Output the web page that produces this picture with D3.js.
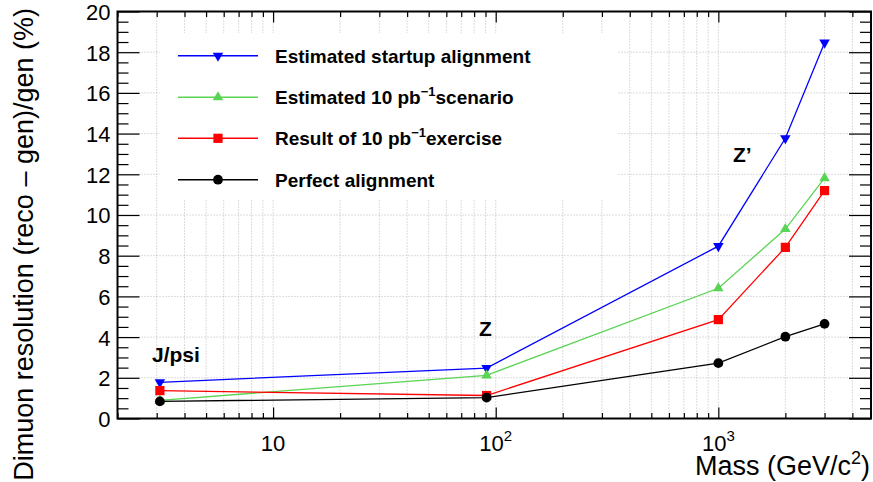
<!DOCTYPE html>
<html>
<head>
<meta charset="utf-8">
<script src="https://cdn.jsdelivr.net/npm/d3@7"></script>
<style>
	body { margin: 0; background: #fff; }
	text { font-family: 'Liberation Sans', Arial, sans-serif; fill: #000; }
	.grid line { stroke: #b8b8b8; stroke-width: 1; stroke-dasharray: 1, 2; }
	.axis path { display: none; }
	.axis line { stroke: #000; stroke-width: 1.2; }
</style>
</head>
<body>
<script>
// Data
var masses = [3.1, 91, 1000, 2000, 3000];
var startup = [1.78, 2.48, 8.47, 13.77, 18.47];
var scenario10 = [0.89, 2.12, 6.4, 9.31, 11.81];
var exercise10 = [1.37, 1.13, 4.86, 8.41, 11.2];
var perfect = [0.84, 1.03, 2.72, 4.02, 4.65];

var seriesNames = ['Estimated startup alignment', 'Estimated 10 pb', 'Result of 10 pb', 'Perfect alignment'];
var seriesTails = ['', 'scenario', 'exercise', ''];
var seriesSup = ['', '\u22121', '\u22121', ''];
var resonances = ['J/psi', 'Z', 'Z\u2019'];
var xLabelBase = ['10', '10', '10'];
var xLabelExp = ['', '2', '3'];
var yTickValues = [0, 2, 4, 6, 8, 10, 12, 14, 16, 18, 20];

// Set dimensions
var W = 873, H = 482;
var frame = { left: 117.5, right: 871, top: 11.5, bottom: 418.5 };

var x = d3.scaleLog().domain([2, 4850]).range([frame.left, frame.right]);
var y = d3.scaleLinear().domain([0, 20]).range([frame.bottom, frame.top]);

var svg = d3
	.select('body')
	.append('svg')
	.attr('width', W)
	.attr('height', H);

var xAll = x.ticks();
var xMajor = xAll.filter(d => Math.abs(Math.log10(d) - Math.round(Math.log10(d))) < 1e-9);
var xMinor = xAll.filter(d => xMajor.indexOf(d) < 0);
var yMinor = d3.range(0, 20.01, 0.5).filter(d => d % 2 !== 0);

// Grid
var grid = svg.append('g').attr('class', 'grid');
grid.selectAll('.gx')
	.data(xAll.filter(d => d > 2))
	.enter()
	.append('line')
	.attr('x1', d => x(d)).attr('x2', d => x(d))
	.attr('y1', frame.top).attr('y2', frame.bottom);
grid.selectAll('.gy')
	.data(yTickValues.slice(1, -1))
	.enter()
	.append('line')
	.attr('x1', frame.left).attr('x2', frame.right)
	.attr('y1', d => y(d)).attr('y2', d => y(d));

// Legend background hides the grid behind it
svg.append('rect')
	.attr('x', 160).attr('y', 33)
	.attr('width', 458).attr('height', 167)
	.attr('fill', '#fff');

// Ticks on all four sides
function ticks(axis, values, size, tx, ty) {
	svg.append('g')
		.attr('class', 'axis')
		.attr('transform', 'translate(' + tx + ',' + ty + ')')
		.call(axis.tickValues(values).tickSize(size).tickFormat(''));
}
ticks(d3.axisTop(x), xMajor, 11, 0, frame.bottom);
ticks(d3.axisTop(x), xMinor, 5.5, 0, frame.bottom);
ticks(d3.axisBottom(x), xMajor, 11, 0, frame.top);
ticks(d3.axisBottom(x), xMinor, 5.5, 0, frame.top);
ticks(d3.axisRight(y), yTickValues, 22, frame.left, 0);
ticks(d3.axisRight(y), yMinor, 11, frame.left, 0);
ticks(d3.axisLeft(y), yTickValues, 22, frame.right, 0);
ticks(d3.axisLeft(y), yMinor, 11, frame.right, 0);

// Frame
svg.append('rect')
	.attr('x', frame.left).attr('y', frame.top)
	.attr('width', frame.right - frame.left)
	.attr('height', frame.bottom - frame.top)
	.attr('fill', 'none')
	.attr('stroke', '#000')
	.attr('stroke-width', 2);

// Y tick labels
svg.append('g')
	.attr('transform', 'translate(' + (frame.left - 7) + ',0)')
	.call(d3.axisLeft(y).tickValues(yTickValues).tickSize(0).tickPadding(0))
	.call(g => g.select('.domain').remove())
	.selectAll('text')
	.style('font-size', '22px')
	.attr('dy', '0.36em');

// X tick labels (powers of ten)
var xl = svg.append('g')
	.selectAll('text')
	.data(xMajor)
	.enter()
	.append('text')
	.attr('x', (d, i) => x(d) + (xLabelExp[i] ? 0 : 0))
	.attr('y', 451)
	.attr('text-anchor', 'middle')
	.style('font-size', '22px');
xl.append('tspan').text((d, i) => xLabelBase[i]);
xl.append('tspan')
	.attr('dy', -10)
	.style('font-size', '15px')
	.text((d, i) => xLabelExp[i]);

// Axis titles
var xt = svg.append('text')
	.attr('x', 870)
	.attr('y', 475)
	.attr('text-anchor', 'end')
	.style('font-size', '27px');
xt.append('tspan').text('Mass (GeV/c');
xt.append('tspan').attr('dy', -11).style('font-size', '18px').text('2');
xt.append('tspan').attr('dy', 11).text(')');

svg.append('text')
	.attr('transform', 'translate(33,8) rotate(-90)')
	.attr('text-anchor', 'end')
	.style('font-size', '27px')
	.text('Dimuon resolution (reco \u2013 gen)/gen (%)');

// Series
var series = [
	{ values: startup, color: '#0000ff', symbol: d3.symbolTriangle, size: 48, rot: 180 },
	{ values: scenario10, color: '#59d454', symbol: d3.symbolTriangle, size: 48, rot: 0 },
	{ values: exercise10, color: '#ff0000', symbol: d3.symbolSquare, size: 85, rot: 0 },
	{ values: perfect, color: '#000000', symbol: d3.symbolCircle, size: 75, rot: 0 }
];

var line = d3.line()
	.x((d, i) => x(masses[i]))
	.y(d => y(d));

series.forEach(s => {
	svg.append('path')
		.datum(s.values)
		.attr('d', line)
		.attr('fill', 'none')
		.attr('stroke', s.color)
		.attr('stroke-width', 1.3);
	svg.selectAll(null)
		.data(s.values)
		.enter()
		.append('path')
		.attr('d', d3.symbol().type(s.symbol).size(s.size))
		.attr('transform', (d, i) => 'translate(' + x(masses[i]) + ',' + y(d) + ') rotate(' + s.rot + ')')
		.attr('fill', s.color);
});

// Legend
var legendY = [55.7, 97.3, 138.3, 179.7];
series.forEach((s, i) => {
	var g = svg.append('g').attr('transform', 'translate(0,' + legendY[i] + ')');
	g.append('line')
		.attr('x1', 178).attr('x2', 258)
		.attr('stroke', s.color)
		.attr('stroke-width', 1.5);
	g.append('path')
		.attr('d', d3.symbol().type(s.symbol).size(s.size))
		.attr('transform', 'translate(218,0) rotate(' + s.rot + ')')
		.attr('fill', s.color);
	var t = g.append('text')
		.attr('x', 275)
		.attr('y', 7)
		.style('font-size', '19px')
		.style('font-weight', 'bold');
	t.append('tspan').text(seriesNames[i]);
	if (seriesSup[i]) {
		t.append('tspan').attr('dy', -8).style('font-size', '13px').text(seriesSup[i]);
		t.append('tspan').attr('dy', 8).text(seriesTails[i]);
	}
});

// Resonance labels
var resPos = [[152, 362], [479, 336], [733, 162]];
svg.selectAll('.res')
	.data(resonances)
	.enter()
	.append('text')
	.attr('x', (d, i) => resPos[i][0])
	.attr('y', (d, i) => resPos[i][1])
	.style('font-size', '21px')
	.style('font-weight', 'bold')
	.text(d => d);
</script>
</body>
</html>
